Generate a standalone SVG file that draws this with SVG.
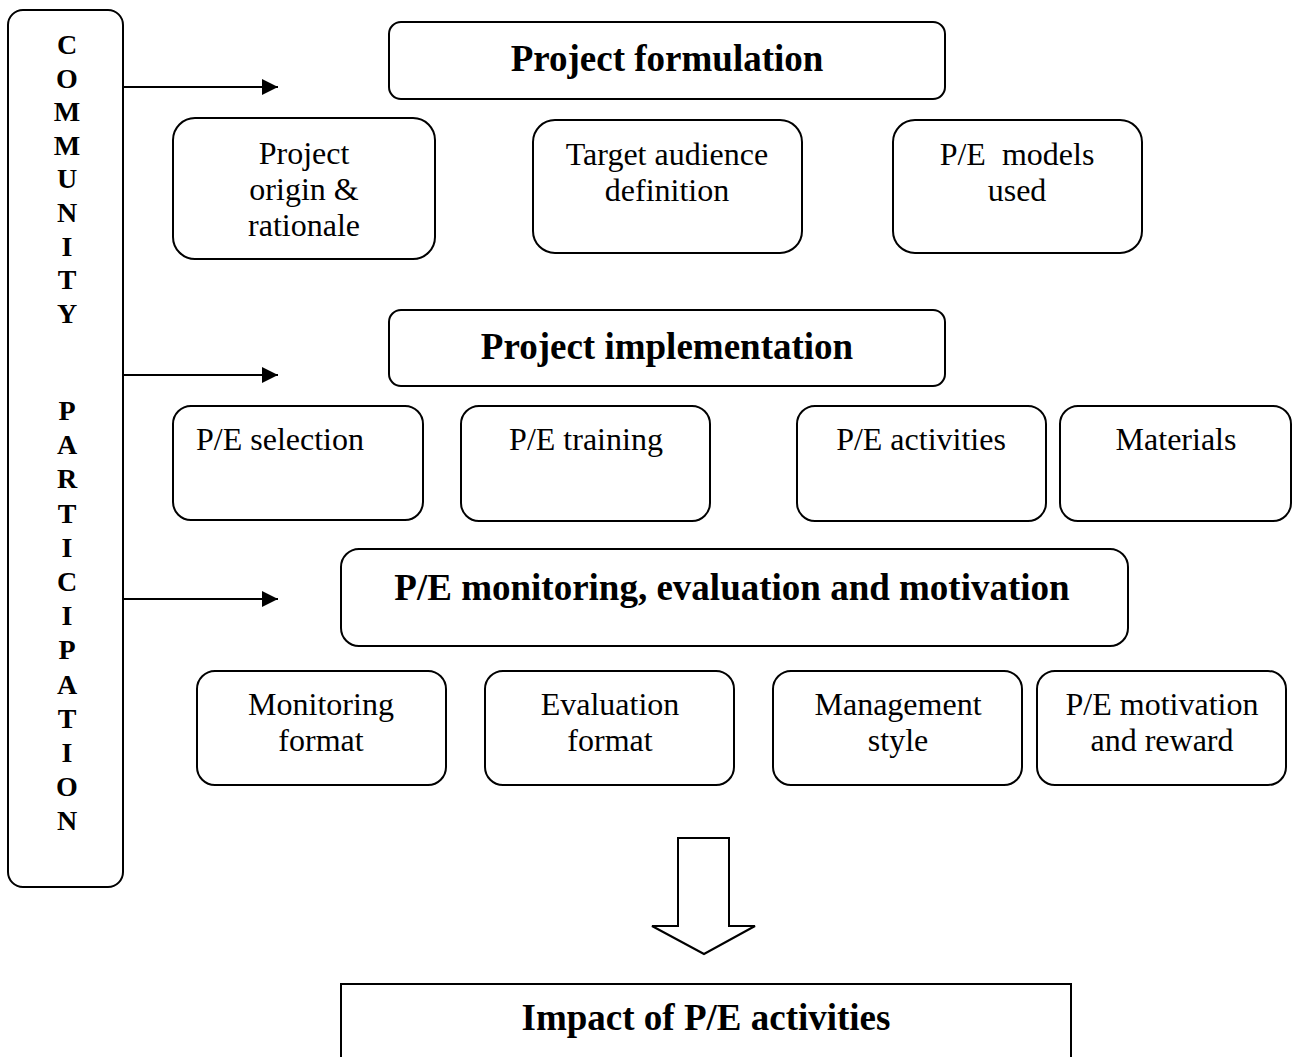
<svg xmlns="http://www.w3.org/2000/svg" width="1294" height="1057" viewBox="0 0 1294 1057">
<defs>
<style>
.box{fill:#fff;stroke:#000;stroke-width:2}
.t{font-family:"Liberation Serif","Times New Roman",serif;font-size:32px;fill:#000;text-anchor:middle}
.h{font-family:"Liberation Serif","Times New Roman",serif;font-size:37px;font-weight:bold;fill:#000;text-anchor:middle}
.v{font-family:"Liberation Serif","Times New Roman",serif;font-size:28px;font-weight:bold;fill:#000;text-anchor:middle}
.conn{stroke:#000;stroke-width:2;fill:none}
</style>
<marker id="ah" markerWidth="16" markerHeight="16" viewBox="0 0 16 16" refX="16" refY="8" orient="auto" markerUnits="userSpaceOnUse">
<path d="M0,0 L16,8 L0,16 Z" fill="#000"/>
</marker>
</defs>
<rect width="1294" height="1057" fill="#fff"/>

<g id="community-participation">
<rect class="box" x="8" y="10" width="115" height="877" rx="15"/>
<text class="v" x="67" y="54">
<tspan x="67" y="54">C</tspan><tspan x="67" y="87.6">O</tspan><tspan x="67" y="121.2">M</tspan><tspan x="67" y="154.8">M</tspan><tspan x="67" y="188.4">U</tspan><tspan x="67" y="222">N</tspan><tspan x="67" y="255.6">I</tspan><tspan x="67" y="289.2">T</tspan><tspan x="67" y="322.8">Y</tspan>
</text>
<text class="v" x="67" y="420">
<tspan x="67" y="420">P</tspan><tspan x="67" y="454.2">A</tspan><tspan x="67" y="488.4">R</tspan><tspan x="67" y="522.6">T</tspan><tspan x="67" y="556.8">I</tspan><tspan x="67" y="591">C</tspan><tspan x="67" y="625.2">I</tspan><tspan x="67" y="659.4">P</tspan><tspan x="67" y="693.6">A</tspan><tspan x="67" y="727.8">T</tspan><tspan x="67" y="762">I</tspan><tspan x="67" y="796.2">O</tspan><tspan x="67" y="830.4">N</tspan>
</text>
</g>

<g id="project-formulation">
<rect class="box" x="389" y="22" width="556" height="77" rx="12"/>
<text class="h" x="667" y="71">Project formulation</text>
</g>
<g id="project-origin">
<rect class="box" x="173" y="118" width="262" height="141" rx="22"/>
<text class="t" x="304" y="164">Project</text>
<text class="t" x="304" y="200">origin &amp;</text>
<text class="t" x="304" y="236">rationale</text>
</g>
<g id="target-audience">
<rect class="box" x="533" y="120" width="269" height="133" rx="22"/>
<text class="t" x="667" y="165">Target audience</text>
<text class="t" x="667" y="201">definition</text>
</g>
<g id="pe-models">
<rect class="box" x="893" y="120" width="249" height="133" rx="22"/>
<text class="t" x="1017" y="165" xml:space="preserve">P/E  models</text>
<text class="t" x="1017" y="201">used</text>
</g>

<g id="project-implementation">
<rect class="box" x="389" y="310" width="556" height="76" rx="12"/>
<text class="h" x="667" y="359">Project implementation</text>
</g>
<g id="pe-selection">
<rect class="box" x="173" y="406" width="250" height="114" rx="18"/>
<text class="t" x="196" y="450" style="text-anchor:start">P/E selection</text>
</g>
<g id="pe-training">
<rect class="box" x="461" y="406" width="249" height="115" rx="18"/>
<text class="t" x="586" y="450">P/E training</text>
</g>
<g id="pe-activities">
<rect class="box" x="797" y="406" width="249" height="115" rx="18"/>
<text class="t" x="921" y="450">P/E activities</text>
</g>
<g id="materials">
<rect class="box" x="1060" y="406" width="231" height="115" rx="18"/>
<text class="t" x="1176" y="450">Materials</text>
</g>

<g id="pe-monitoring">
<rect class="box" x="341" y="549" width="787" height="97" rx="18"/>
<text class="h" x="732" y="600">P/E monitoring, evaluation and motivation</text>
</g>
<g id="monitoring-format">
<rect class="box" x="197" y="671" width="249" height="114" rx="18"/>
<text class="t" x="321" y="715">Monitoring</text>
<text class="t" x="321" y="751">format</text>
</g>
<g id="evaluation-format">
<rect class="box" x="485" y="671" width="249" height="114" rx="18"/>
<text class="t" x="610" y="715">Evaluation</text>
<text class="t" x="610" y="751">format</text>
</g>
<g id="management-style">
<rect class="box" x="773" y="671" width="249" height="114" rx="18"/>
<text class="t" x="898" y="715">Management</text>
<text class="t" x="898" y="751">style</text>
</g>
<g id="pe-motivation">
<rect class="box" x="1037" y="671" width="249" height="114" rx="18"/>
<text class="t" x="1162" y="715">P/E motivation</text>
<text class="t" x="1162" y="751">and reward</text>
</g>

<g id="impact">
<rect class="box" x="341" y="984" width="730" height="90"/>
<text class="h" x="706" y="1030">Impact of P/E activities</text>
</g>

<g id="connectors">
<line class="conn" x1="123" y1="87" x2="278" y2="87" marker-end="url(#ah)"/>
<line class="conn" x1="123" y1="375" x2="278" y2="375" marker-end="url(#ah)"/>
<line class="conn" x1="123" y1="599" x2="278" y2="599" marker-end="url(#ah)"/>
<path class="box" d="M678,838 L729,838 L729,926 L755,926 L704,954 L652,926 L678,926 Z"/>
</g>
</svg>
